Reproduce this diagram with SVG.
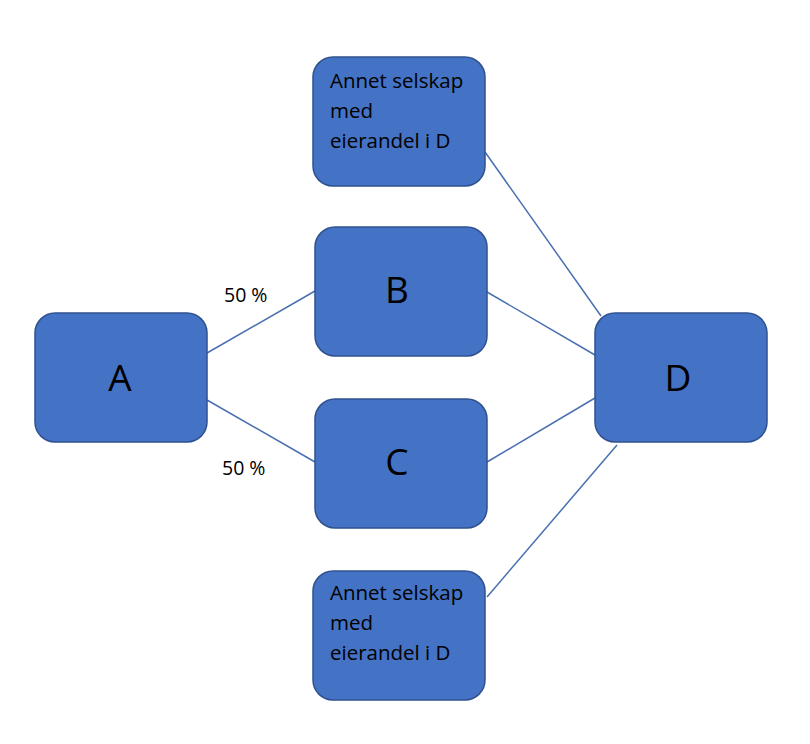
<svg xmlns="http://www.w3.org/2000/svg" width="810" height="744" viewBox="0 0 810 744">
<style>
.box{fill:#4472C4;stroke:#2F528F;stroke-width:1.5}
.big{font-family:"Open Sans","Liberation Sans",sans-serif;font-size:37px;fill:#000;text-anchor:middle}
.small{font-family:"Open Sans","Liberation Sans",sans-serif;font-size:20.5px;fill:#000}
.lbl{font-family:"Open Sans","Liberation Sans",sans-serif;font-size:19.5px;fill:#000}
.con line{stroke:#4A6FB0;stroke-width:1.5}
</style>
<rect width="810" height="744" fill="#fff"/>
<g id="connectors" class="con">
<line x1="207" y1="353" x2="315" y2="291"/>
<line x1="207" y1="400" x2="315" y2="462"/>
<line x1="487" y1="292" x2="595" y2="355"/>
<line x1="487" y1="462" x2="595" y2="398"/>
<line x1="485" y1="152" x2="601" y2="316"/>
<line x1="487" y1="597" x2="617" y2="445"/>
</g>
<g id="top">
<rect class="box" x="313" y="57" width="172" height="129" rx="20"/>
<text class="small" x="330" y="88">Annet selskap</text>
<text class="small" x="330" y="118">med</text>
<text class="small" x="330" y="148">eierandel i D</text>
</g>
<g id="B">
<rect class="box" x="315" y="227" width="172" height="129" rx="20"/>
<text class="big" x="397" y="303">B</text>
</g>
<g id="A">
<rect class="box" x="35" y="313" width="172" height="129" rx="20"/>
<text class="big" x="120" y="391">A</text>
</g>
<g id="C">
<rect class="box" x="315" y="399" width="172" height="129" rx="20"/>
<text class="big" x="397" y="475">C</text>
</g>
<g id="D">
<rect class="box" x="595" y="313" width="172" height="129" rx="20"/>
<text class="big" x="678" y="391">D</text>
</g>
<g id="bottom">
<rect class="box" x="313" y="571" width="172" height="129" rx="20"/>
<text class="small" x="330" y="600">Annet selskap</text>
<text class="small" x="330" y="630">med</text>
<text class="small" x="330" y="660">eierandel i D</text>
</g>
<text class="lbl" x="224" y="302">50 %</text>
<text class="lbl" x="222" y="475">50 %</text>
</svg>
